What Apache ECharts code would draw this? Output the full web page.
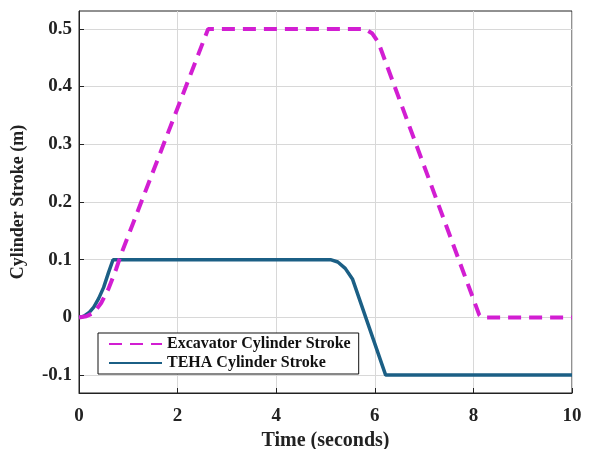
<!DOCTYPE html>
<html>
<head>
<meta charset="utf-8">
<script src="https://cdn.jsdelivr.net/npm/echarts@6/dist/echarts.min.js"></script>
<style>
  html, body { margin: 0; padding: 0; background: #fff; }
  #chart { width: 591px; height: 449px; }
</style>
</head>
<body>
<div id="chart"></div>
<script>
// 读图估计的数据
var excavatorTime = [0, 0.15, 0.3, 0.45, 0.6, 0.75, 0.87, 2.62, 5.8, 5.95, 6.07, 8.12, 8.17, 10];
var excavatorStroke = [0, 0.002, 0.008, 0.025, 0.05, 0.083, 0.113, 0.5, 0.5, 0.492, 0.477, 0.004, 0, 0];

var tehaTime = [0, 0.1, 0.2, 0.3, 0.4, 0.5, 0.6, 0.69, 5.1, 5.25, 5.4, 5.55, 6.22, 10];
var tehaStroke = [0, 0.002, 0.008, 0.018, 0.033, 0.052, 0.078, 0.1, 0.1, 0.096, 0.085, 0.066, -0.1, -0.1];

var yTicks = [-0.1, 0, 0.1, 0.2, 0.3, 0.4, 0.5];
var seriesNames = ['Excavator Cylinder Stroke', 'TEHA Cylinder Stroke'];

function pairs(xs, ys) {
    var out = [];
    for (var i = 0; i < xs.length; i++) {
        out.push([xs[i], ys[i]]);
    }
    return out;
}

var font = 'Liberation Serif';

var chart = echarts.init(document.getElementById('chart'));

var option = {
    animation: false,
    backgroundColor: '#fff',
    grid: {
        left: 79,
        right: 19,
        top: 11,
        bottom: 56,
        containLabel: false,
        outerBoundsMode: 'none',
        show: true,
        borderColor: '#222',
        borderWidth: 1,
        backgroundColor: 'transparent'
    },
    legend: {
        data: seriesNames,
        orient: 'vertical',
        left: 98,
        top: 333,
        backgroundColor: '#fff',
        borderColor: '#111',
        borderWidth: 1,
        padding: [3, 8, 3, 10],
        itemWidth: 53,
        itemHeight: 14,
        itemGap: 3,
        itemStyle: { opacity: 0 },
        textStyle: {
            fontFamily: font,
            fontWeight: 'bold',
            fontSize: 16,
            color: '#111'
        }
    },
    xAxis: {
        type: 'value',
        min: 0,
        max: 10,
        interval: 2,
        name: 'Time (seconds)',
        nameLocation: 'middle',
        nameGap: 37,
        nameTextStyle: {
            fontFamily: font,
            fontWeight: 'bold',
            fontSize: 20,
            color: '#222'
        },
        axisLine: { show: true, onZero: false, lineStyle: { color: '#222' } },
        axisTick: { show: true, inside: true, length: 5, lineStyle: { color: '#222' } },
        axisLabel: {
            margin: 14,
            fontFamily: font,
            fontWeight: 'bold',
            fontSize: 19,
            color: '#222'
        },
        splitLine: { show: true, lineStyle: { color: '#d8d8d8' } }
    },
    yAxis: {
        type: 'value',
        min: -0.131,
        max: 0.531,
        name: 'Cylinder Stroke (m)',
        nameLocation: 'middle',
        nameGap: 52,
        nameTextStyle: {
            fontFamily: font,
            fontWeight: 'bold',
            fontSize: 18,
            color: '#222'
        },
        axisLine: { show: true, onZero: false, lineStyle: { color: '#222' } },
        axisTick: { show: true, inside: true, length: 5, customValues: yTicks, lineStyle: { color: '#222' } },
        axisLabel: {
            margin: 7,
            customValues: yTicks,
            fontFamily: font,
            fontWeight: 'bold',
            fontSize: 19,
            color: '#222',
            formatter: function (v) { return String(Math.round(v * 10) / 10); }
        },
        splitLine: { show: true, lineStyle: { color: '#d8d8d8' } }
    },
    series: [{
        name: seriesNames[0],
        type: 'line',
        symbol: 'none',
        z: 3,
        data: pairs(excavatorTime, excavatorStroke),
        lineStyle: { color: '#d21ed2', width: 4, type: [13, 8] },
        itemStyle: { color: '#d21ed2' }
    }, {
        name: seriesNames[1],
        type: 'line',
        symbol: 'none',
        z: 2,
        data: pairs(tehaTime, tehaStroke),
        lineStyle: { color: '#1b5f85', width: 3.5 },
        itemStyle: { color: '#1b5f85' }
    }]
};

chart.setOption(option);
</script>
</body>
</html>
